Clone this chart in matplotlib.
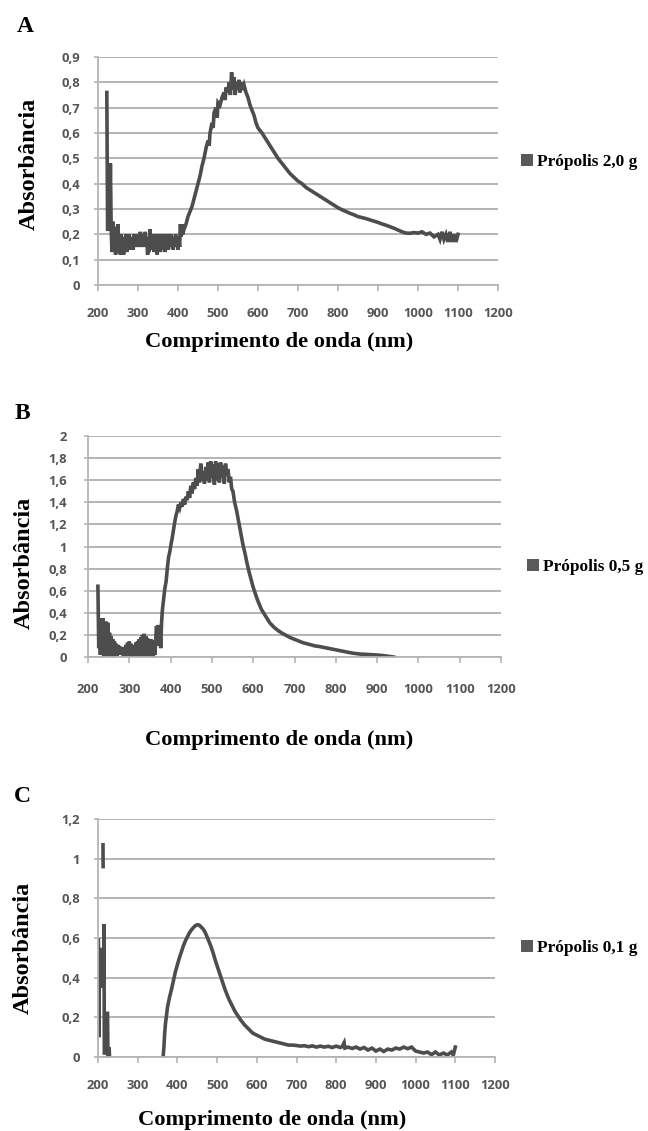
import numpy as np
import matplotlib
matplotlib.use("Agg")
import matplotlib.pyplot as plt
from matplotlib.patches import Patch

# ---------------- data ----------------
xticks = [200, 300, 400, 500, 600, 700, 800, 900, 1000, 1100, 1200]
xticklabels = ["200", "300", "400", "500", "600", "700", "800", "900", "1000", "1100", "1200"]

a_yticks = [0, 0.1, 0.2, 0.3, 0.4, 0.5, 0.6, 0.7, 0.8, 0.9]
a_yticklabels = ["0", "0,1", "0,2", "0,3", "0,4", "0,5", "0,6", "0,7", "0,8", "0,9"]
b_yticks = [0, 0.2, 0.4, 0.6, 0.8, 1.0, 1.2, 1.4, 1.6, 1.8, 2.0]
b_yticklabels = ["0", "0,2", "0,4", "0,6", "0,8", "1", "1,2", "1,4", "1,6", "1,8", "2"]
c_yticks = [0, 0.2, 0.4, 0.6, 0.8, 1.0, 1.2]
c_yticklabels = ["0", "0,2", "0,4", "0,6", "0,8", "1", "1,2"]

a_nm = [222, 224, 229, 231, 233, 235, 237,
        240, 242, 244, 246, 248, 250, 252, 254, 256, 258, 260, 262, 264, 266, 268, 270,
        272, 274, 276, 278, 280, 282, 284, 286, 288, 290, 292, 294, 296, 298, 300, 302,
        304, 306, 308, 310, 312, 314, 316, 318, 320, 322, 324, 326, 328, 330, 332, 334,
        336, 338, 340, 342, 344, 346, 348, 350, 352, 354, 356, 358, 360, 362, 364, 366,
        368, 370, 372, 374, 376, 378, 380, 382, 384, 386, 388, 390, 392, 394, 396, 398,
        400, 402, 404, 406, 408, 410, 412, 415, 420, 425, 430, 435, 440, 445, 450, 455,
        460, 465, 470, 475, 478, 480, 485, 488, 490, 495, 498, 500, 505, 510, 515, 518,
        520, 525, 528, 531, 534, 537, 540, 543, 546, 549, 552, 555, 558, 561, 565, 570,
        575, 580, 585, 590, 595, 600, 610, 620, 630, 640, 650, 660, 670, 680, 690, 700,
        710, 720, 730, 740, 750, 760, 770, 780, 790, 800, 810, 820, 830, 840, 850, 860,
        870, 880, 890, 900, 910, 920, 930, 940, 950, 960, 970, 980, 990, 1000, 1010,
        1020, 1030, 1040, 1050, 1055, 1060, 1065, 1070, 1075, 1080, 1085, 1090, 1095, 1100]
a_abs = [0.76, 0.22, 0.22, 0.48, 0.22, 0.13, 0.25,
         0.14, 0.23, 0.12, 0.21, 0.15, 0.24, 0.13, 0.19, 0.12, 0.20, 0.14, 0.18, 0.12, 0.19, 0.15, 0.20,
         0.13, 0.18, 0.15, 0.20, 0.14, 0.19, 0.16, 0.18, 0.14, 0.20, 0.15, 0.19, 0.16, 0.20, 0.15, 0.19,
         0.16, 0.21, 0.15, 0.18, 0.17, 0.20, 0.15, 0.21, 0.17, 0.19, 0.12, 0.18, 0.13, 0.22, 0.16, 0.20,
         0.14, 0.19, 0.13, 0.20, 0.15, 0.19, 0.12, 0.20, 0.14, 0.18, 0.13, 0.20, 0.15, 0.19, 0.14, 0.20,
         0.13, 0.19, 0.15, 0.20, 0.14, 0.18, 0.16, 0.20, 0.15, 0.19, 0.14, 0.18, 0.16, 0.20, 0.15, 0.19,
         0.14, 0.18, 0.15, 0.24, 0.19, 0.24, 0.20, 0.22, 0.24, 0.27, 0.29, 0.31, 0.34, 0.37, 0.40, 0.43,
         0.47, 0.50, 0.54, 0.57, 0.55, 0.60, 0.64, 0.62, 0.68, 0.70, 0.66, 0.72, 0.71, 0.74, 0.76, 0.73,
         0.78, 0.76, 0.80, 0.75, 0.84, 0.77, 0.82, 0.75, 0.80, 0.77, 0.81, 0.76, 0.80, 0.77, 0.79, 0.76,
         0.74, 0.71, 0.69, 0.67, 0.64, 0.62, 0.60, 0.575, 0.55, 0.525, 0.50, 0.48, 0.46, 0.44, 0.425, 0.41,
         0.40, 0.385, 0.375, 0.365, 0.355, 0.345, 0.335, 0.325, 0.315, 0.305, 0.297, 0.29, 0.283, 0.277, 0.27, 0.266,
         0.262, 0.257, 0.252, 0.247, 0.241, 0.236, 0.23, 0.224, 0.217, 0.21, 0.205, 0.204, 0.207, 0.205, 0.21,
         0.20, 0.205, 0.19, 0.20, 0.18, 0.21, 0.18, 0.20, 0.17, 0.21, 0.17, 0.20, 0.17, 0.20]

b_nm = [224, 226, 228, 230, 232, 234, 236, 238, 240, 242, 244, 246, 248, 250, 252, 254, 256, 258,
        260, 262, 264, 266, 268, 270, 272, 274, 276, 278, 280, 282, 284, 286, 288, 290, 292, 294,
        296, 298, 300, 302, 304, 306, 308, 310, 312, 314, 316, 318, 320, 322, 324, 326, 328, 330,
        332, 334, 336, 338, 340, 342, 344, 346, 348, 350, 352, 354, 356, 358, 360, 362, 364, 366,
        368, 370, 372, 374, 376, 378, 380, 383, 386, 389, 392, 395, 398, 401, 404, 407, 410, 413,
        416, 419, 422, 425, 428, 431, 434, 437, 440, 443, 446, 449, 452, 455, 458, 461, 464, 467,
        470, 473, 476, 479, 482, 485, 488, 491, 494, 497, 500, 503, 506, 509, 512, 515, 518, 521,
        524, 527, 530, 533, 536, 539, 542, 545, 548, 551, 555, 560, 565, 570, 575, 580, 585, 590,
        595, 600, 610, 620, 630, 640, 650, 660, 670, 680, 690, 700, 710, 720, 730, 740, 750, 760,
        770, 780, 790, 800, 810, 820, 830, 840, 850, 860, 870, 880, 890, 900, 910, 920, 930, 940]
b_abs = [0.64, 0.08, 0.35, 0.02, 0.30, 0.05, 0.35, 0.00, 0.28, 0.03, 0.32, 0.00, 0.31, 0.02, 0.22, 0.00, 0.19, 0.04,
         0.16, 0.00, 0.14, 0.03, 0.12, 0.01, 0.11, 0.04, 0.10, 0.02, 0.09, 0.05, 0.08, 0.00, 0.09, 0.04, 0.11, 0.00,
         0.13, 0.03, 0.14, 0.00, 0.12, 0.04, 0.10, 0.00, 0.11, 0.02, 0.13, 0.00, 0.14, 0.03, 0.16, 0.00, 0.18, 0.02,
         0.20, 0.00, 0.21, 0.03, 0.19, 0.00, 0.17, 0.02, 0.15, 0.00, 0.16, 0.03, 0.14, 0.00, 0.15, 0.02, 0.17, 0.28,
         0.12, 0.29, 0.10, 0.27, 0.08, 0.30, 0.42, 0.52, 0.62, 0.68, 0.80, 0.90, 0.95, 1.02, 1.08, 1.15, 1.22, 1.28,
         1.32, 1.38, 1.35, 1.40, 1.36, 1.43, 1.38, 1.45, 1.42, 1.50, 1.44, 1.55, 1.48, 1.58, 1.52, 1.62, 1.55, 1.70,
         1.58, 1.75, 1.60, 1.68, 1.57, 1.72, 1.60, 1.76, 1.58, 1.77, 1.62, 1.74, 1.56, 1.77, 1.60, 1.75, 1.58, 1.76,
         1.62, 1.73, 1.57, 1.75, 1.64, 1.70, 1.58, 1.63, 1.52, 1.50, 1.40, 1.32, 1.22, 1.12, 1.02, 0.94, 0.85, 0.77,
         0.70, 0.63, 0.52, 0.43, 0.37, 0.31, 0.27, 0.24, 0.215, 0.195, 0.175, 0.16, 0.145, 0.13, 0.12, 0.11, 0.10, 0.095,
         0.088, 0.08, 0.072, 0.065, 0.058, 0.05, 0.042, 0.035, 0.03, 0.026, 0.025, 0.022, 0.02, 0.018, 0.015, 0.01, 0.006, 0.0]

# NaN entries separate the disconnected pieces of the recorded trace
c_nm = [201, 202, 204, 206, 208, 210, 212, 214, 215, 216, 218, np.nan,
        212.6, 212.9, np.nan,
        224, 225, 227, 228, 229, np.nan,
        364, 366, 368, 370, 372, 375, 380, 385, 390, 395, 400, 405, 410, 415, 420, 425, 430, 435,
        440, 445, 450, 455, 460, 465, 470, 475, 480, 485, 490, 495, 500, 505, 510, 515, 520, 525,
        530, 535, 540, 545, 550, 555, 560, 570, 580, 590, 600, 610, 620, 630, 640, 650, 660, 670,
        680, 690, 700, 710, 720, 730, 740, 750, 760, 770, 780, 790, 800, 810, 815, 820, 822, 830,
        840, 850, 860, 870, 880, 890, 900, 910, 920, 930, 940, 950, 960, 970, 980, 990, 1000, 1010,
        1020, 1030, 1040, 1050, 1060, 1070, 1080, 1090, 1095, 1100]
c_abs = [0.59, 0.10, 0.55, 0.36, 0.55, 0.35, 0.54, 0.37, 0.67, 0.02, 0.02, np.nan,
         1.07, 0.96, np.nan,
         0.22, 0.0, 0.0, 0.05, 0.0, np.nan,
         0.0, 0.05, 0.12, 0.17, 0.20, 0.25, 0.30, 0.34, 0.385, 0.43, 0.465, 0.50, 0.53, 0.56, 0.585, 0.605, 0.625, 0.64,
         0.652, 0.662, 0.667, 0.665, 0.655, 0.645, 0.628, 0.605, 0.58, 0.555, 0.525, 0.49, 0.46, 0.43, 0.40, 0.37, 0.34, 0.315,
         0.29, 0.27, 0.25, 0.23, 0.215, 0.20, 0.185, 0.16, 0.14, 0.12, 0.11, 0.10, 0.09, 0.085, 0.08, 0.075, 0.07, 0.065,
         0.06, 0.06, 0.058, 0.055, 0.057, 0.052, 0.056, 0.05, 0.055, 0.05, 0.054, 0.048, 0.055, 0.048, 0.052, 0.072, 0.045, 0.05,
         0.043, 0.05, 0.04, 0.048, 0.035, 0.045, 0.03, 0.04, 0.028, 0.04, 0.035, 0.045, 0.04, 0.05, 0.042, 0.05, 0.03, 0.025,
         0.02, 0.025, 0.012, 0.025, 0.01, 0.02, 0.01, 0.025, 0.01, 0.05]

labels = ["Própolis 2,0 g", "Própolis 0,5 g", "Própolis 0,1 g"]

# ---------------- style ----------------
W, H = 648, 1131
fig = plt.figure(figsize=(W / 100, H / 100), dpi=100)
LINE = "#4d4d4d"
GRID = "#b4b4b4"
SERIF = ["Liberation Serif", "DejaVu Serif"]
TICKF = ["Open Sans", "DejaVu Sans"]


def fx(px):
    return px / W


def fy(py):
    return 1 - py / H


def make_panel(rect_px, x, y, yticks, yticklabels, ymax, label, letter, letter_pos,
               ylab_pos, xlab_pos, leg_pos, xpad, ypad):
    l, t, r, b = rect_px
    ax = fig.add_axes([fx(l), fy(b), (r - l) / W, (b - t) / H])
    ax.plot(x, y, color=LINE, lw=2.6, solid_joinstyle="miter")
    ax.set_xlim(200, 1200)
    ax.set_ylim(0, ymax)
    ax.set_xticks(xticks)
    ax.set_xticklabels(xticklabels)
    ax.set_yticks(yticks)
    ax.set_yticklabels(yticklabels)
    for s in ("top", "right"):
        ax.spines[s].set_visible(False)
    for s in ("left", "bottom"):
        ax.spines[s].set_color(GRID)
        ax.spines[s].set_linewidth(1.3)
    ax.yaxis.grid(True, color=GRID, lw=1.4)
    ax.set_axisbelow(True)
    ax.tick_params(axis="x", length=4, width=1.2, color=GRID, pad=xpad)
    ax.tick_params(axis="y", length=3, width=1.2, color=GRID, pad=ypad)
    for tl in ax.get_xticklabels() + ax.get_yticklabels():
        tl.set_family(TICKF)
        tl.set_fontsize(9.4)
        tl.set_color("#555555")
        tl.set_fontweight("bold")
    fig.text(fx(letter_pos[0]), fy(letter_pos[1]), letter, family=SERIF, fontweight="bold",
             fontsize=17, ha="center", va="center")
    fig.text(fx(ylab_pos[0]), fy(ylab_pos[1]), "Absorbância", family=SERIF, fontweight="bold",
             fontsize=17.5, rotation=90, ha="center", va="center")
    fig.text(fx(xlab_pos[0]), fy(xlab_pos[1]), "Comprimento de onda (nm)", family=SERIF,
             fontweight="bold", fontsize=16.2, ha="center", va="center")
    handle = Patch(facecolor="#5a5a5a", edgecolor="none")
    ax.legend([handle], [label], loc="center left", frameon=False,
              bbox_to_anchor=(fx(leg_pos[0]), fy(leg_pos[1])),
              bbox_transform=fig.transFigure, borderpad=0, borderaxespad=0,
              handlelength=0.7, handleheight=0.7, handletextpad=0.25,
              prop={"family": SERIF, "weight": "bold", "size": 12.4})
    return ax


make_panel((98, 57, 498, 285), a_nm, a_abs, a_yticks, a_yticklabels, 0.9, labels[0], "A",
           (25, 27), (29, 164), (279, 342), (521, 162), 11.5, 10)
make_panel((88, 436, 501, 657), b_nm, b_abs, b_yticks, b_yticklabels, 2.0, labels[1], "B",
           (22, 413), (24, 563), (279, 740), (527, 567), 14.5, 12)
make_panel((98, 819, 495, 1057), c_nm, c_abs, c_yticks, c_yticklabels, 1.2, labels[2], "C",
           (22, 797), (23, 948), (272, 1120), (521, 948), 11.5, 10)

fig.savefig("out.png", dpi=100, facecolor="white")
